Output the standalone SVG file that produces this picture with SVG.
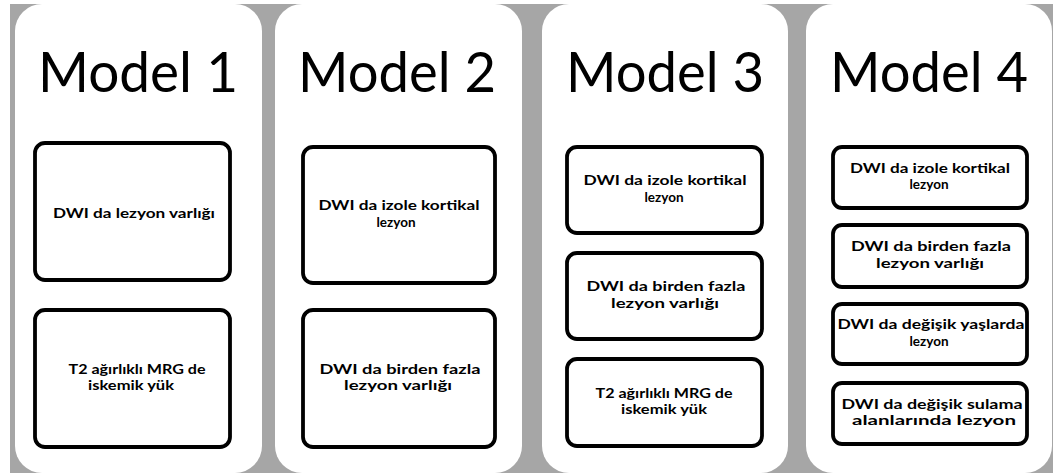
<svg xmlns="http://www.w3.org/2000/svg" width="1053" height="475" viewBox="0 0 1053 475">
  <style>
    .panel { fill: #ffffff; }
    .title { font-family: Lato, "Open Sans", "Liberation Sans", sans-serif; font-size: 57px; fill: #000; text-anchor: middle; }
    .box { fill: #ffffff; stroke: #000; stroke-width: 3.8; }
    .lbl { font-family: Lato, "Liberation Sans", sans-serif; font-weight: bold; font-size: 13.5px; fill: #000; text-anchor: middle; }
  </style>
  <rect x="0" y="0" width="1053" height="475" fill="#ffffff"/>
  <!-- grey backing strip behind the four columns -->
  <rect x="10" y="4" width="1043" height="469" fill="#a6a6a6"/>

  <!-- Model 1 -->
  <g id="model1">
    <rect class="panel" x="15" y="4" width="247" height="469" rx="27"/>
    <text class="title" x="138" y="92" textLength="200" lengthAdjust="spacingAndGlyphs">Model 1</text>
    <g id="m1-n1">
      <rect class="box" x="35" y="143" width="195" height="137" rx="10"/>
      <text class="lbl" x="134" y="218" textLength="162" lengthAdjust="spacingAndGlyphs">DWI da lezyon varlığı</text>
    </g>
    <g id="m1-n2">
      <rect class="box" x="35" y="310" width="195" height="137" rx="10"/>
      <text class="lbl" x="137" y="373.5" textLength="137" lengthAdjust="spacingAndGlyphs">T2 ağırlıklı MRG de</text>
      <text class="lbl" x="131" y="390" textLength="86" lengthAdjust="spacingAndGlyphs">iskemik yük</text>
    </g>
  </g>

  <!-- Model 2 -->
  <g id="model2">
    <rect class="panel" x="275" y="4" width="247" height="469" rx="27"/>
    <text class="title" x="397" y="92" textLength="198" lengthAdjust="spacingAndGlyphs">Model 2</text>
    <g id="m2-n1">
      <rect class="box" x="303" y="147" width="192" height="136" rx="10"/>
      <text class="lbl" x="399" y="210" textLength="161" lengthAdjust="spacingAndGlyphs">DWI da izole kortikal</text>
      <text class="lbl" x="396" y="226.5">lezyon</text>
    </g>
    <g id="m2-n2">
      <rect class="box" x="303" y="310" width="192" height="137" rx="10"/>
      <text class="lbl" x="400" y="373.5" textLength="161" lengthAdjust="spacingAndGlyphs">DWI da birden fazla</text>
      <text class="lbl" x="398" y="390" textLength="108" lengthAdjust="spacingAndGlyphs">lezyon varlığı</text>
    </g>
  </g>

  <!-- Model 3 -->
  <g id="model3">
    <rect class="panel" x="542" y="4" width="246" height="469" rx="27"/>
    <text class="title" x="665" y="92" textLength="198" lengthAdjust="spacingAndGlyphs">Model 3</text>
    <g id="m3-n1">
      <rect class="box" x="567" y="147" width="195" height="86" rx="10"/>
      <text class="lbl" x="665" y="185" textLength="163" lengthAdjust="spacingAndGlyphs">DWI da izole kortikal</text>
      <text class="lbl" x="664" y="201.5">lezyon</text>
    </g>
    <g id="m3-n2">
      <rect class="box" x="567" y="253" width="195" height="86" rx="10"/>
      <text class="lbl" x="666" y="291" textLength="159" lengthAdjust="spacingAndGlyphs">DWI da birden fazla</text>
      <text class="lbl" x="665" y="307.5" textLength="108" lengthAdjust="spacingAndGlyphs">lezyon varlığı</text>
    </g>
    <g id="m3-n3">
      <rect class="box" x="567" y="359" width="195" height="87" rx="10"/>
      <text class="lbl" x="664" y="397.5" textLength="137" lengthAdjust="spacingAndGlyphs">T2 ağırlıklı MRG de</text>
      <text class="lbl" x="664" y="414" textLength="86" lengthAdjust="spacingAndGlyphs">iskemik yük</text>
    </g>
  </g>

  <!-- Model 4 -->
  <g id="model4">
    <rect class="panel" x="806" y="4" width="246" height="469" rx="27"/>
    <text class="title" x="929" y="92" textLength="198" lengthAdjust="spacingAndGlyphs">Model 4</text>
    <g id="m4-n1">
      <rect class="box" x="833" y="147" width="194" height="61" rx="9"/>
      <text class="lbl" x="930" y="172.5" textLength="160" lengthAdjust="spacingAndGlyphs">DWI da izole kortikal</text>
      <text class="lbl" x="929" y="189">lezyon</text>
    </g>
    <g id="m4-n2">
      <rect class="box" x="833" y="225" width="194" height="62" rx="9"/>
      <text class="lbl" x="931" y="251" textLength="160" lengthAdjust="spacingAndGlyphs">DWI da birden fazla</text>
      <text class="lbl" x="930" y="267.5" textLength="108" lengthAdjust="spacingAndGlyphs">lezyon varlığı</text>
    </g>
    <g id="m4-n3">
      <rect class="box" x="833" y="304" width="194" height="60" rx="9"/>
      <text class="lbl" x="931" y="329" textLength="187" lengthAdjust="spacingAndGlyphs">DWI da değişik yaşlarda</text>
      <text class="lbl" x="929" y="345.5">lezyon</text>
    </g>
    <g id="m4-n4">
      <rect class="box" x="833" y="383" width="194" height="61" rx="9"/>
      <text class="lbl" x="932" y="408.5" textLength="181" lengthAdjust="spacingAndGlyphs">DWI da değişik sulama</text>
      <text class="lbl" x="934" y="425" textLength="164" lengthAdjust="spacingAndGlyphs">alanlarında lezyon</text>
    </g>
  </g>
</svg>
